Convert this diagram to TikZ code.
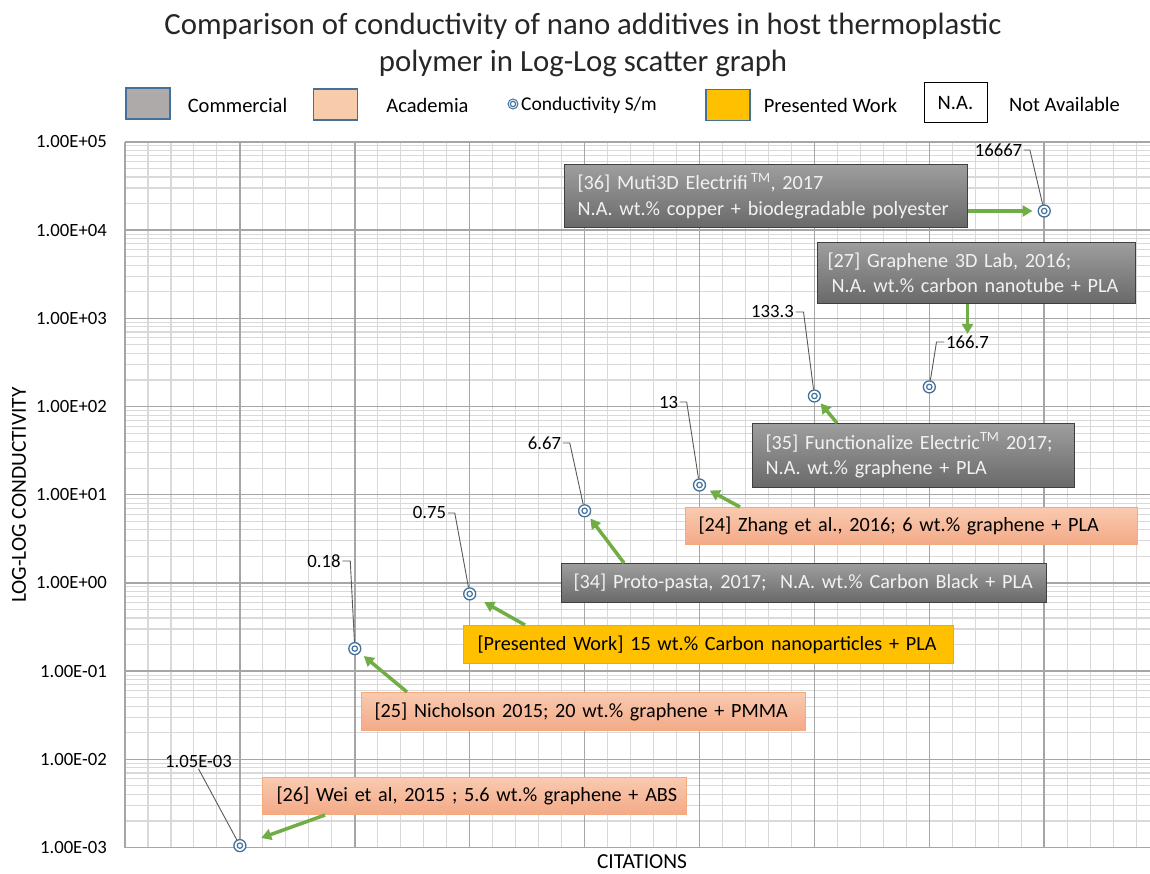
\documentclass[tikz,border=0pt]{standalone}
\usepackage{fontspec}
\setmainfont{Carlito}
\usetikzlibrary{arrows.meta,positioning}

\definecolor{gridminor}{RGB}{217,217,217}
\definecolor{gridmajor}{RGB}{166,166,166}
\definecolor{ptblue}{RGB}{65,113,156}
\definecolor{arrgreen}{RGB}{112,173,71}
\definecolor{leadgray}{RGB}{89,89,89}
\definecolor{commtop}{RGB}{158,158,158}
\definecolor{commbot}{RGB}{105,105,105}
\definecolor{commline}{RGB}{64,64,64}
\definecolor{commtext}{RGB}{242,242,242}
\definecolor{acadtop}{RGB}{249,202,176}
\definecolor{acadbot}{RGB}{243,170,135}
\definecolor{acadline}{RGB}{244,170,125}
\definecolor{presfill}{RGB}{255,192,0}
\definecolor{presline}{RGB}{237,165,50}
\definecolor{legcomm}{RGB}{174,170,170}
\definecolor{legacad}{RGB}{248,203,173}
\definecolor{titlecol}{RGB}{38,38,38}

\begin{document}
\begin{tikzpicture}[x=1pt,y=-1pt,>={Triangle[length=10pt,width=11pt]}]
      \tikzstyle{minor}=[draw=gridminor,line width=1.1pt]
      \tikzstyle{major}=[draw=gridmajor,line width=1.5pt]
      \tikzstyle{cbox}=[anchor=north west,inner xsep=13pt,inner ysep=0pt,align=left,font=\fontsize{20.2}{25.5}\selectfont]
      \tikzstyle{comm}=[cbox,draw=commline,line width=1pt,top color=commtop,bottom color=commbot,text=commtext]
      \tikzstyle{acad}=[cbox,draw=acadline,line width=1pt,top color=acadtop,bottom color=acadbot]
      \tikzstyle{pres}=[cbox,draw=presline,line width=1pt,fill=presfill]
      \tikzstyle{pnt}=[circle,draw=ptblue,line width=1.3pt,fill=white,minimum size=12pt,inner sep=0pt,
        path picture={\draw[ptblue,line width=1.2pt] (path picture bounding box.center) circle (2.7pt);}]
      \tikzstyle{lbl}=[inner sep=1.5pt,font=\fontsize{18.7}{20}\selectfont]
      \tikzstyle{tick}=[inner sep=0pt,anchor=east,font=\fontsize{18.7}{20}\selectfont]
      \tikzstyle{axtitle}=[inner sep=0pt,font=\fontsize{21.4}{24}\selectfont]
      \tikzstyle{legtxt}=[inner sep=0pt,font=\fontsize{20.5}{24}\selectfont]
      \tikzstyle{legsq}=[draw=ptblue,line width=1.2pt,minimum width=44pt,minimum height=31pt]
      \tikzstyle{lead}=[draw=leadgray,line width=0.9pt]
      \tikzstyle{arr}=[->,draw=arrgreen,line width=3.5pt]

      \useasboundingbox (0,0) rectangle (1150,874);

      % grid
      \foreach \i in {1,...,44}
        \draw[minor] ({125+22.98*\i},142) -- ({125+22.98*\i},847.5);
      \foreach \d in {0,...,7}
        \foreach \k in {2,...,9}
          \draw[minor] (125,{847.5-88.2*(\d+log10(\k))}) -- (1150,{847.5-88.2*(\d+log10(\k))});
      \foreach \i in {0,...,8}
        \draw[major] ({125+114.9*\i},142) -- ({125+114.9*\i},847.5);
      \foreach \d in {0,...,8}
        \draw[major] (125,{847.5-88.2*\d}) -- (1150,{847.5-88.2*\d});

      % axes
      \foreach \t [count=\i from 0] in {1.00E-03,1.00E-02,1.00E-01,1.00E+00,1.00E+01,1.00E+02,1.00E+03,1.00E+04,1.00E+05}
        \node[tick] (t\i) at (107,{847.5-88.2*\i}) {\t};
      \node[axtitle,rotate=90] (ylab) at (19,495) {LOG-LOG CONDUCTIVITY};
      \node[axtitle]           (xlab) at (642,862) {CITATIONS};

      % title and legend
      \node[align=center,text=titlecol,font=\fontsize{30.8}{37}\selectfont] (title) at (583,45) {Comparison of conductivity of nano additives in host thermoplastic\\polymer in Log-Log scatter graph};
      \node[legsq,fill=legcomm] (lc)  at (148,103.5) {};
      \node[legtxt]             (lct) at (237.5,105) {Commercial};
      \node[legsq,fill=legacad] (la)  at (335.5,104.5) {};
      \node[legtxt]             (lat) at (427.5,105) {Academia};
      \node[pnt,minimum size=10pt,line width=1pt] (lp) at (513,104) {};
      \node[legtxt,anchor=west,font=\fontsize{19.5}{24}\selectfont] (lpt) at (521,105) {Conductivity S/m};
      \node[legsq,fill=presfill] (lw) at (728,105) {};
      \node[legtxt]             (lwt) at (830.5,105) {Presented Work};
      \node[legtxt,draw=black,line width=1pt,minimum width=63pt,minimum height=40pt] (ln) at (955.5,103) {N.A.};
      \node[legtxt]             (lnt) at (1064.5,104) {Not Available};

      % data points
      \node[pnt] (p1) at (239.9,845.6) {};
      \node[pnt] (p2) at (354.8,648.6) {};
      \node[pnt] (p3) at (469.7,593.9) {};
      \node[pnt] (p4) at (584.6,510.8) {};
      \node[pnt] (p5) at (699.5,485.0) {};
      \node[pnt] (p6) at (814.4,396.0) {};
      \node[pnt] (p7) at (929.3,386.9) {};
      \node[pnt] (p8) at (1044.2,211.0) {};

      \node[lbl] (l1) at (198.5,761) {1.05E-03};
      \node[lbl] (l2) at (324,561)   {0.18};
      \node[lbl] (l3) at (429.5,513) {0.75};
      \node[lbl] (l4) at (544.5,443) {6.67};
      \node[lbl] (l5) at (668.5,402) {13};
      \node[lbl] (l6) at (772.5,312) {133.3};
      \node[lbl] (l7) at (967.5,342) {166.7};
      \node[lbl] (l8) at (998.5,150) {16667};

      \draw[lead] (l1.south) -- (p1);
      \draw[lead] (l2.east) -- ++(8,0) -- (p2);
      \draw[lead] (l3.east) -- ++(7,0) -- (p3);
      \draw[lead] (l4.east) -- ++(7,0) -- (p4);
      \draw[lead] (l5.east) -- ++(7,0) -- (p5);
      \draw[lead] (l6.east) -- ++(8,0) -- (p6);
      \draw[lead] (l7.west) -- ++(-8,0) -- (p7);
      \draw[lead] (l8.east) -- ++(6,0) -- (p8);

      % citation boxes
      \node[comm,text width=377pt,minimum height=63pt] (b36) at (564,164)
        {\mbox{[36] Muti3D Electrifi\,\textsuperscript{TM}, 2017}\\\mbox{N.A. wt.\% copper + biodegradable polyester}};
      \node[comm,inner xsep=10pt,text width=298pt,minimum height=61pt] (b27) at (817,242)
        {\mbox{[27] Graphene 3D Lab, 2016;}\\\mbox{\hspace*{0.2em}N.A. wt.\% carbon nanotube + PLA}};
      \node[comm,text width=296pt,minimum height=64pt] (b35) at (752,423)
        {\mbox{[35] Functionalize Electric\textsuperscript{TM} 2017;}\\\mbox{N.A. wt.\% graphene + PLA}};
      \node[acad,text width=426pt,minimum height=37pt] (b24) at (685,507)
        {\mbox{[24] Zhang et al., 2016; 6 wt.\% graphene + PLA}};
      \node[comm,inner xsep=12pt,text width=461pt,minimum height=39pt] (b34) at (561,563)
        {\mbox{[34] Proto-pasta, 2017;\ \ N.A. wt.\% Carbon Black + PLA}};
      \node[pres,inner xsep=14pt,text width=462pt,minimum height=38pt] (bpw) at (463,625)
        {\mbox{[Presented Work] 15 wt.\% Carbon nanoparticles + PLA}};
      \node[acad,text width=418pt,minimum height=38pt] (b25) at (361,692)
        {\mbox{[25] Nicholson 2015; 20 wt.\% graphene + PMMA}};
      \node[acad,inner xsep=14pt,text width=396pt,minimum height=37pt] (b26) at (262,777)
        {\mbox{[26] Wei et al, 2015 ; 5.6 wt.\% graphene + ABS}};

      \draw[arr,shorten >=5pt]  (b36.east |- p8) -- (p8);
      \draw[arr]                (l7 |- b27.south) -- (l7.north);
      \draw[arr,shorten >=3pt]  ([xshift=85pt]b35.north west) -- (p6);
      \draw[arr,shorten >=5pt]  ([xshift=55pt]b24.north west) -- (p5);
      \draw[arr,shorten >=3pt]  ([xshift=63pt]b34.north west) -- (p4);
      \draw[arr,shorten >=10pt] ([xshift=62pt]bpw.north west) -- (p3);
      \draw[arr,shorten >=5pt]  ([xshift=46pt]b25.north west) -- (p2);
      \draw[arr,shorten >=16pt] ([xshift=63pt]b26.south west) -- (p1);
\end{tikzpicture}
\end{document}
